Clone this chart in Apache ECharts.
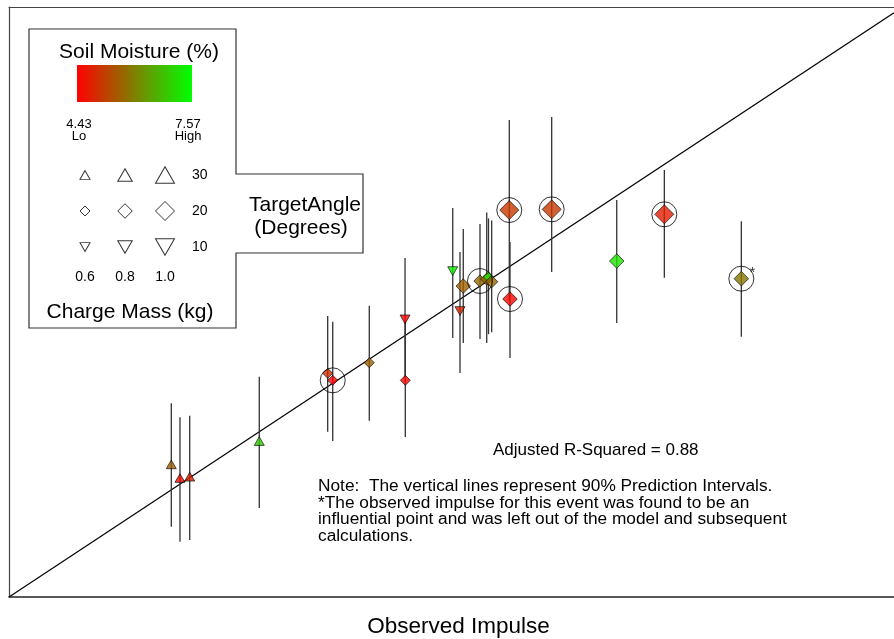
<!DOCTYPE html>
<html>
<head>
<meta charset="utf-8">
<script src="https://cdn.jsdelivr.net/npm/echarts@6/dist/echarts.min.js"></script>
<style>
html,body{margin:0;padding:0;background:#fff;}
#chart{width:894px;height:639px;}
</style>
</head>
<body>
<div id="chart"></div>
<script>
// ---- data ----
const observed    = [18.34,19.32,20.42,28.28,36.01,36.58,40.71,44.75,44.78,50.14,50.96,51.33,53.22,53.98,54.18,54.54,56.53,56.61,61.32,68.67,74.05,82.75];
const predicted   = [22.71,20.37,20.59,26.70,38.29,37.09,40.11,47.53,37.09,55.80,48.96,53.23,54.09,54.43,54.77,53.97,66.24,51.01,66.36,57.51,65.51,54.49];
const piLow       = [12.03, 9.47, 9.76,15.23,28.30,26.71,30.18,37.49,27.39,44.33,38.34,43.48,44.16,43.48,44.99,45.31,50.84,40.91,55.63,46.90,54.66,44.56];
const piHigh      = [33.16,30.76,31.03,37.71,48.10,47.12,49.86,58.03,47.19,66.59,59.06,62.99,63.85,65.83,64.81,64.46,81.65,60.77,82.16,67.96,73.09,64.31];
const chargeMass  = [0.6,0.6,0.6,0.6,0.6,0.6,0.6,0.6,0.6,0.6,0.6,0.8,0.7,0.7,0.6,0.7,1.0,0.8,1.0,0.8,1.0,0.8];
const targetAngle = [30,30,30,30,20,20,20,10,20,10,10,20,20,20,20,20,20,20,20,20,20,20];
const soilMoisture= [5.6,4.55,4.9,6.94,4.99,4.43,5.65,4.45,4.5,7.4,4.9,5.6,5.75,5.7,7.3,5.7,5.12,4.5,5.12,7.2,4.8,5.9];
const circled     = [0,0,0,0,0,1,0,0,0,0,0,0,1,0,0,0,1,1,1,0,1,1];
const influential = [0,0,0,0,0,0,0,0,0,0,0,0,0,0,0,0,0,0,0,0,0,1];
const lineX = [0, 100];
const lineY = [0, 100];
const moistureLo = 4.43, moistureHi = 7.57;
const legendMasses = ['0.6','0.8','1.0'];
const legendAngles = ['10','20','30'];
const rSquared = '0.88';

// ---- helpers ----
const FONT = 'Liberation Sans, Arial, sans-serif';
function moistColor(v){
  let t = (v - moistureLo)/(moistureHi - moistureLo);
  t = Math.max(0, Math.min(1, t));
  const r = Math.round(255*(1-t)), g = Math.round(255*t);
  return 'rgb(' + r + ',' + g + ',0)';
}
function massSize(m){ return 10 + (m - 0.6)*22.5; }
function symFor(angle, size){
  if (angle >= 30) return {symbol:'triangle', symbolSize:[size, size*0.87], symbolRotate:0};
  if (angle <= 10) return {symbol:'triangle', symbolSize:[size, size*0.87], symbolRotate:180};
  return {symbol:'diamond', symbolSize:[size, size], symbolRotate:0};
}

const intervalData = observed.map((x,i)=>[x, piLow[i], piHigh[i]]);
const markerData = observed.map((x,i)=>{
  const s = symFor(targetAngle[i], massSize(chargeMass[i]));
  return Object.assign({value:[x, predicted[i]], itemStyle:{color: moistColor(soilMoisture[i]), borderColor:'#000', borderWidth:0.8}}, s);
});
const circleData = [];
observed.forEach((x,i)=>{
  if (circled[i]) {
    const item = {value:[x, predicted[i]]};
    if (influential[i]) {
      item.label = {show:true, formatter:'*', position:'inside', offset:[11,-6], fontSize:15, color:'#000', fontFamily:FONT};
    }
    circleData.push(item);
  }
});
const legendData = [];
legendMasses.forEach((m,ci)=>{
  legendAngles.forEach((a,ri)=>{
    const s = symFor(+a, massSize(+m));
    legendData.push(Object.assign({value:[ci, ri]}, s));
  });
});

const chart = echarts.init(document.getElementById('chart'), null, {renderer:'canvas'});
const option = {
  backgroundColor:'#fff',
  animation:false,
  grid:[
    {left:9, top:7, width:885, height:590, outerBoundsMode:'none', containLabel:false},
    {left:65, top:157, width:120, height:108, outerBoundsMode:'none', containLabel:false}
  ],
  xAxis:[
    {type:'value', gridIndex:0, min:0, max:100, position:'bottom',
     axisLine:{show:true, onZero:false, lineStyle:{color:'#222', width:1.6}},
     axisTick:{show:false}, axisLabel:{show:false}, splitLine:{show:false}},
    {type:'value', gridIndex:0, min:0, max:100, position:'top',
     axisLine:{show:true, onZero:false, lineStyle:{color:'#444', width:1.2}},
     axisTick:{show:false}, axisLabel:{show:false}, splitLine:{show:false}},
    {type:'category', gridIndex:1, data:legendMasses, position:'bottom', z:30,
     axisLine:{show:false}, axisTick:{show:false},
     axisLabel:{margin:5, fontSize:14, color:'#000', fontFamily:FONT}, splitLine:{show:false}}
  ],
  yAxis:[
    {type:'value', gridIndex:0, min:0, max:101,
     axisLine:{show:true, onZero:false, lineStyle:{color:'#444', width:1.2}},
     axisTick:{show:false}, axisLabel:{show:false}, splitLine:{show:false}},
    {type:'category', gridIndex:1, data:legendAngles, position:'right', z:30,
     axisLine:{show:false}, axisTick:{show:false},
     axisLabel:{margin:7, fontSize:14, color:'#000', fontFamily:FONT}, splitLine:{show:false}}
  ],
  graphic:[
    {type:'polygon', z:10, shape:{points:[[29,29],[236,29],[236,174],[363,174],[363,253],[236,253],[236,328],[29,328]]},
     style:{fill:'#fff', stroke:'#333', lineWidth:1.2}},
    {type:'rect', z:11, shape:{x:77, y:65, width:115, height:37},
     style:{fill:new echarts.graphic.LinearGradient(0,0,1,0,[{offset:0,color:'#ff0000'},{offset:1,color:'#00ff00'}])}},
    {type:'text', z:11, x:139, y:52, style:{text:'Soil Moisture (%)', font:'21px '+FONT, fill:'#000', align:'center', verticalAlign:'middle'}},
    {type:'text', z:11, x:79, y:130, style:{text:moistureLo.toFixed(2)+'\nLo', font:'13px '+FONT, fill:'#000', align:'center', verticalAlign:'middle', lineHeight:12}},
    {type:'text', z:11, x:188, y:130, style:{text:moistureHi.toFixed(2)+'\nHigh', font:'13px '+FONT, fill:'#000', align:'center', verticalAlign:'middle', lineHeight:12}},
    {type:'text', z:11, x:305, y:205, style:{text:'TargetAngle', font:'21px '+FONT, fill:'#000', align:'center', verticalAlign:'middle'}},
    {type:'text', z:11, x:301, y:228, style:{text:'(Degrees)', font:'21px '+FONT, fill:'#000', align:'center', verticalAlign:'middle'}},
    {type:'text', z:11, x:130, y:312, style:{text:'Charge Mass (kg)', font:'21px '+FONT, fill:'#000', align:'center', verticalAlign:'middle'}},
    {type:'text', z:11, x:493, y:450, style:{text:'Adjusted R-Squared = '+rSquared, font:'17px '+FONT, fill:'#000', align:'left', verticalAlign:'middle'}},
    {type:'text', z:11, x:318, y:478, style:{text:'Note:  The vertical lines represent 90% Prediction Intervals.\n*The observed impulse for this event was found to be an\ninfluential point and was left out of the model and subsequent\ncalculations.', font:'17.3px '+FONT, fill:'#000', align:'left', verticalAlign:'top', lineHeight:16.5}},
    {type:'text', z:11, x:458.5, y:627, style:{text:'Observed Impulse', font:'22.5px '+FONT, fill:'#000', align:'center', verticalAlign:'middle'}}
  ],
  series:[
    {type:'line', xAxisIndex:0, yAxisIndex:0, data:lineX.map((x,i)=>[x, lineY[i]]), symbol:'none',
     lineStyle:{color:'#000', width:1.2}, z:1, silent:true},
    {type:'custom', xAxisIndex:0, yAxisIndex:0, data:intervalData, z:2, silent:true,
     renderItem:function(params, api){
       const p1 = api.coord([api.value(0), api.value(1)]);
       const p2 = api.coord([api.value(0), api.value(2)]);
       return {type:'line', shape:{x1:p1[0], y1:p1[1], x2:p2[0], y2:p2[1]}, style:{stroke:'#333', lineWidth:1.3}};
     }},
    {type:'scatter', xAxisIndex:0, yAxisIndex:0, data:markerData, z:3, silent:true},
    {type:'scatter', xAxisIndex:0, yAxisIndex:0, data:circleData, z:4, silent:true,
     symbol:'circle', symbolSize:25, itemStyle:{color:'rgba(0,0,0,0)', borderColor:'#000', borderWidth:1}},
    {type:'scatter', xAxisIndex:2, yAxisIndex:1, data:legendData, z:20, silent:true,
     itemStyle:{color:'#fff', borderColor:'#000', borderWidth:1}}
  ]
};
chart.setOption(option);
</script>
</body>
</html>
